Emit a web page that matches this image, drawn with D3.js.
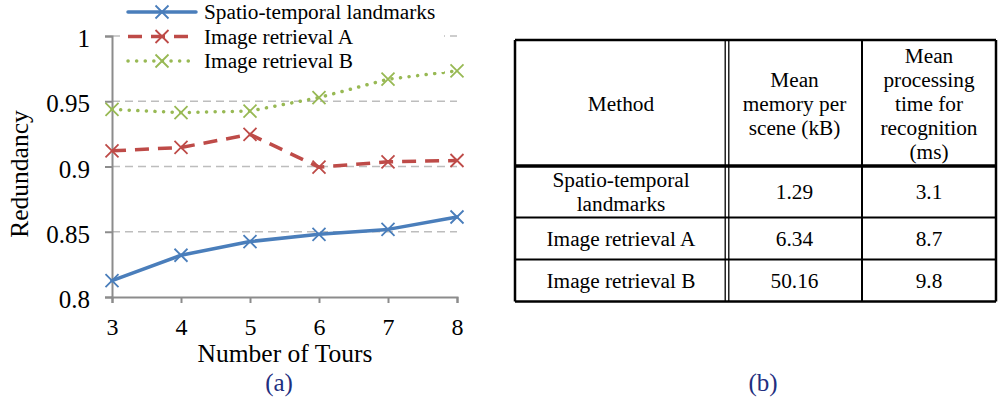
<!DOCTYPE html>
<html>
<head>
<meta charset="utf-8">
<script src="https://cdn.jsdelivr.net/npm/d3@7"></script>
<style>
  body { margin: 0; background: #fff; }
  svg text { font-family: 'Liberation Serif', 'Times New Roman', Times, serif !important; }
</style>
</head>
<body>
<svg id="fig" width="1003" height="401"></svg>
<script>
"use strict";
var serif = "'Liberation Serif'";
// chart data
var tours = [3, 4, 5, 6, 7, 8];
var seriesNames = ["Spatio-temporal landmarks", "Image retrieval A", "Image retrieval B"];
var landmarks = [0.8125, 0.832, 0.8425, 0.848, 0.8518, 0.8613];
var retrievalA = [0.912, 0.9146, 0.9246, 0.8995, 0.9036, 0.9046];
var retrievalB = [0.9438, 0.9413, 0.9425, 0.9528, 0.9669, 0.9733];
var yTicks = [0.8, 0.85, 0.9, 0.95, 1];

// table data
var headers = [["Method"], ["Mean", "memory per", "scene (kB)"], ["Mean", "processing", "time for", "recognition", "(ms)"]];
var methods = [["Spatio-temporal", "landmarks"], ["Image retrieval A"], ["Image retrieval B"]];
var memory = ["1.29", "6.34", "50.16"];
var procTime = ["3.1", "8.7", "9.8"];

var svg = d3.select("#fig");

// ---- line chart (a) ----
var x = d3.scaleLinear().domain([3, 8]).range([112, 457]);
var y = d3.scaleLinear().domain([0.8, 1]).range([297, 36]);

var styles = [
  {color: "#4a7ebb", dash: null, width: 3.5, cap: "round"},
  {color: "#be4b48", dash: "14,9", width: 3.5, cap: "butt"},
  {color: "#98b954", dash: "0.1,8.5", width: 3.5, cap: "round"}
];
var allSeries = [landmarks, retrievalA, retrievalB];

var chart = svg.append("g");

// dashed gridlines
chart.selectAll("line.grid")
  .data(yTicks.slice(1))
  .enter().append("line")
  .attr("class", "grid")
  .attr("x1", x(3)).attr("x2", x(8))
  .attr("y1", function(d){ return y(d); })
  .attr("y2", function(d){ return y(d); })
  .attr("stroke", "#bdbdbd")
  .attr("stroke-width", 1.5)
  .attr("stroke-dasharray", "8,5");

// y axis
var yAxis = d3.axisLeft(y).tickValues(yTicks).tickSize(7).tickPadding(15)
  .tickFormat(function(d){ return String(+d.toFixed(2)); });
var gy = chart.append("g").attr("transform", "translate(" + x(3) + ",0)").call(yAxis);
gy.select(".domain").attr("stroke", "#8c8c8c").attr("stroke-width", 2);
gy.selectAll(".tick line").attr("stroke", "#8c8c8c").attr("stroke-width", 2);
gy.selectAll(".tick text").style("font-family", serif).style("font-size", "25px")
  .attr("fill", "#000").attr("dy", "0.42em");

// x axis
var xAxis = d3.axisBottom(x).tickValues(tours).tickSize(6).tickPadding(15).tickFormat(d3.format("d"));
var gx = chart.append("g").attr("transform", "translate(0," + y(0.8) + ")").call(xAxis);
gx.select(".domain").attr("stroke", "#8c8c8c").attr("stroke-width", 2);
gx.selectAll(".tick line").attr("stroke", "#8c8c8c").attr("stroke-width", 2);
gx.selectAll(".tick text").style("font-family", serif).style("font-size", "24px").attr("fill", "#000");

// axis titles
chart.append("text")
  .attr("x", 285).attr("y", 362)
  .attr("text-anchor", "middle")
  .style("font-family", serif).style("font-size", "25.5px")
  .text("Number of Tours");
chart.append("text")
  .attr("transform", "translate(28,174) rotate(-90)")
  .attr("text-anchor", "middle")
  .style("font-family", serif).style("font-size", "25.5px")
  .text("Redundancy");

// series lines
var line = d3.line()
  .x(function(d, i){ return x(tours[i]); })
  .y(function(d){ return y(d); });

function cross(g, cx, cy, color) {
  var s = 6.5;
  g.append("path")
    .attr("d", "M" + (cx - s) + "," + (cy - s) + "L" + (cx + s) + "," + (cy + s) +
               "M" + (cx - s) + "," + (cy + s) + "L" + (cx + s) + "," + (cy - s))
    .attr("stroke", color)
    .attr("stroke-width", 1.8)
    .attr("fill", "none");
}

allSeries.forEach(function(vals, k) {
  var st = styles[k];
  chart.append("path")
    .datum(vals)
    .attr("d", line)
    .attr("fill", "none")
    .attr("stroke", st.color)
    .attr("stroke-width", st.width)
    .attr("stroke-linecap", st.cap)
    .attr("stroke-linejoin", "round")
    .attr("stroke-dasharray", st.dash);
  vals.forEach(function(v, i){ cross(chart, x(tours[i]), y(v), st.color); });
});

// legend
var legend = chart.append("g");
legend.append("rect")
  .attr("x", 122).attr("y", 0).attr("width", 322).attr("height", 72)
  .attr("fill", "#fff");
seriesNames.forEach(function(name, k) {
  var st = styles[k];
  var ly = 12 + k * 24.5;
  legend.append("line")
    .attr("x1", 128).attr("x2", 196)
    .attr("y1", ly).attr("y2", ly)
    .attr("stroke", st.color)
    .attr("stroke-width", st.width)
    .attr("stroke-linecap", st.cap)
    .attr("stroke-dasharray", st.dash);
  cross(legend, 162, ly, st.color);
  legend.append("text")
    .attr("x", 204).attr("y", ly + 7)
    .style("font-family", serif).style("font-size", "21.3px")
    .text(name);
});

// caption (a)
chart.append("text")
  .attr("x", 279).attr("y", 391)
  .attr("text-anchor", "middle")
  .style("font-family", serif).style("font-size", "25px")
  .attr("fill", "#1f2f80")
  .text("(a)");

// ---- table (b) ----
var colX = [515, 727, 862, 996];
var rowY = [40, 166, 217.5, 259.5, 301.5];
var lh = 24;
var tbl = svg.append("g");

function cellText(lines, cx, cy) {
  var t = tbl.append("text")
    .attr("text-anchor", "middle")
    .style("font-family", serif).style("font-size", "21.3px");
  lines.forEach(function(s, i) {
    t.append("tspan")
      .attr("x", cx)
      .attr("y", cy + (i - (lines.length - 1) / 2) * lh + 7)
      .text(s);
  });
}

// header
headers.forEach(function(h, j) {
  cellText(h, (colX[j] + colX[j + 1]) / 2, (rowY[0] + rowY[1]) / 2 + 0.5);
});
// body
methods.forEach(function(m, i) {
  var cy = (rowY[i + 1] + rowY[i + 2]) / 2;
  cellText(m, (colX[0] + colX[1]) / 2, cy);
  cellText([memory[i]], (colX[1] + colX[2]) / 2, cy);
  cellText([procTime[i]], (colX[2] + colX[3]) / 2, cy);
});

// grid lines
function hline(yv, w) {
  tbl.append("line").attr("x1", colX[0]).attr("x2", colX[3])
    .attr("y1", yv).attr("y2", yv).attr("stroke", "#000").attr("stroke-width", w);
}
function vline(xv, w) {
  tbl.append("line").attr("x1", xv).attr("x2", xv)
    .attr("y1", rowY[0]).attr("y2", rowY[4]).attr("stroke", "#000").attr("stroke-width", w);
}
hline(rowY[0], 2.5);
hline(rowY[1], 3.5);
hline(rowY[2], 2);
hline(rowY[3], 2);
hline(rowY[4], 2.5);
vline(colX[0], 2.5);
vline(colX[1] - 1.8, 1.3);
vline(colX[1] + 1.8, 1.3);
vline(colX[2], 2);
vline(colX[3], 2.5);

// caption (b)
tbl.append("text")
  .attr("x", 763).attr("y", 391)
  .attr("text-anchor", "middle")
  .style("font-family", serif).style("font-size", "25px")
  .attr("fill", "#1f2f80")
  .text("(b)");
</script>
</body>
</html>
